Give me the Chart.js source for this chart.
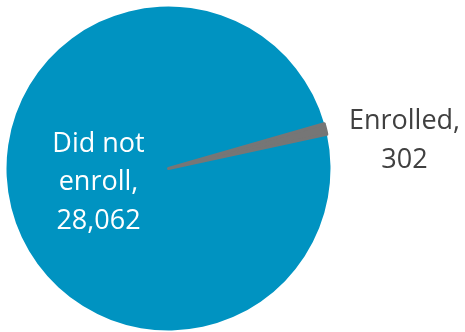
<!DOCTYPE html>
<html>
<head>
<meta charset="utf-8">
<script src="https://cdn.jsdelivr.net/npm/chart.js@4/dist/chart.umd.min.js"></script>
<style>
  html, body { margin: 0; padding: 0; background: #fff; }
  #wrap { width: 465px; height: 332px; position: relative; }
</style>
</head>
<body>
<div id="wrap"><canvas id="pie"></canvas></div>
<script>
// データ
const categories = ["Did not enroll", "Enrolled"];
const counts = [28062, 302];
const sliceColors = ["#0093C1", "#767676"];

const fmt = (n) => new Intl.NumberFormat("en-US").format(n);

// ラベル描画（Excel風：カテゴリ名, 値）
const sliceLabels = {
  id: "sliceLabels",
  afterDraw(chart) {
    const { ctx } = chart;
    const arcs = chart.getDatasetMeta(0).data;
    if (!arcs.length) return;
    const { x: cx, y: cy, outerRadius: r } = arcs[0].getProps(["x", "y", "outerRadius"], true);

    ctx.save();
    ctx.font = "27px 'Open Sans', sans-serif";
    ctx.textAlign = "center";
    ctx.textBaseline = "alphabetic";

    // 内側ラベル
    ctx.fillStyle = "#ffffff";
    const inner = ["Did not", "enroll,", fmt(counts[0])];
    inner.forEach((t, i) => ctx.fillText(t, cx - 70, cy - 17 + i * 38.5));

    // 外側ラベル
    ctx.fillStyle = "#404040";
    const outer = ["Enrolled,", fmt(counts[1])];
    outer.forEach((t, i) => ctx.fillText(t, cx + r + 74, cy - 40 + i * 39));

    ctx.restore();
  },
};

new Chart(document.getElementById("pie"), {
  type: "pie",
  data: {
    labels: categories,
    datasets: [{
      data: counts,
      backgroundColor: sliceColors,
      borderColor: sliceColors,
      borderWidth: [0, 3],
      borderJoinStyle: "round",
    }],
  },
  plugins: [sliceLabels],
  options: {
    responsive: true,
    maintainAspectRatio: false,
    animation: false,
    rotation: 77.8,
    layout: { padding: { left: 5, top: 5, right: 133, bottom: 0 } },
    plugins: {
      legend: { display: false },
      tooltip: { enabled: false },
    },
  },
});
</script>
</body>
</html>
